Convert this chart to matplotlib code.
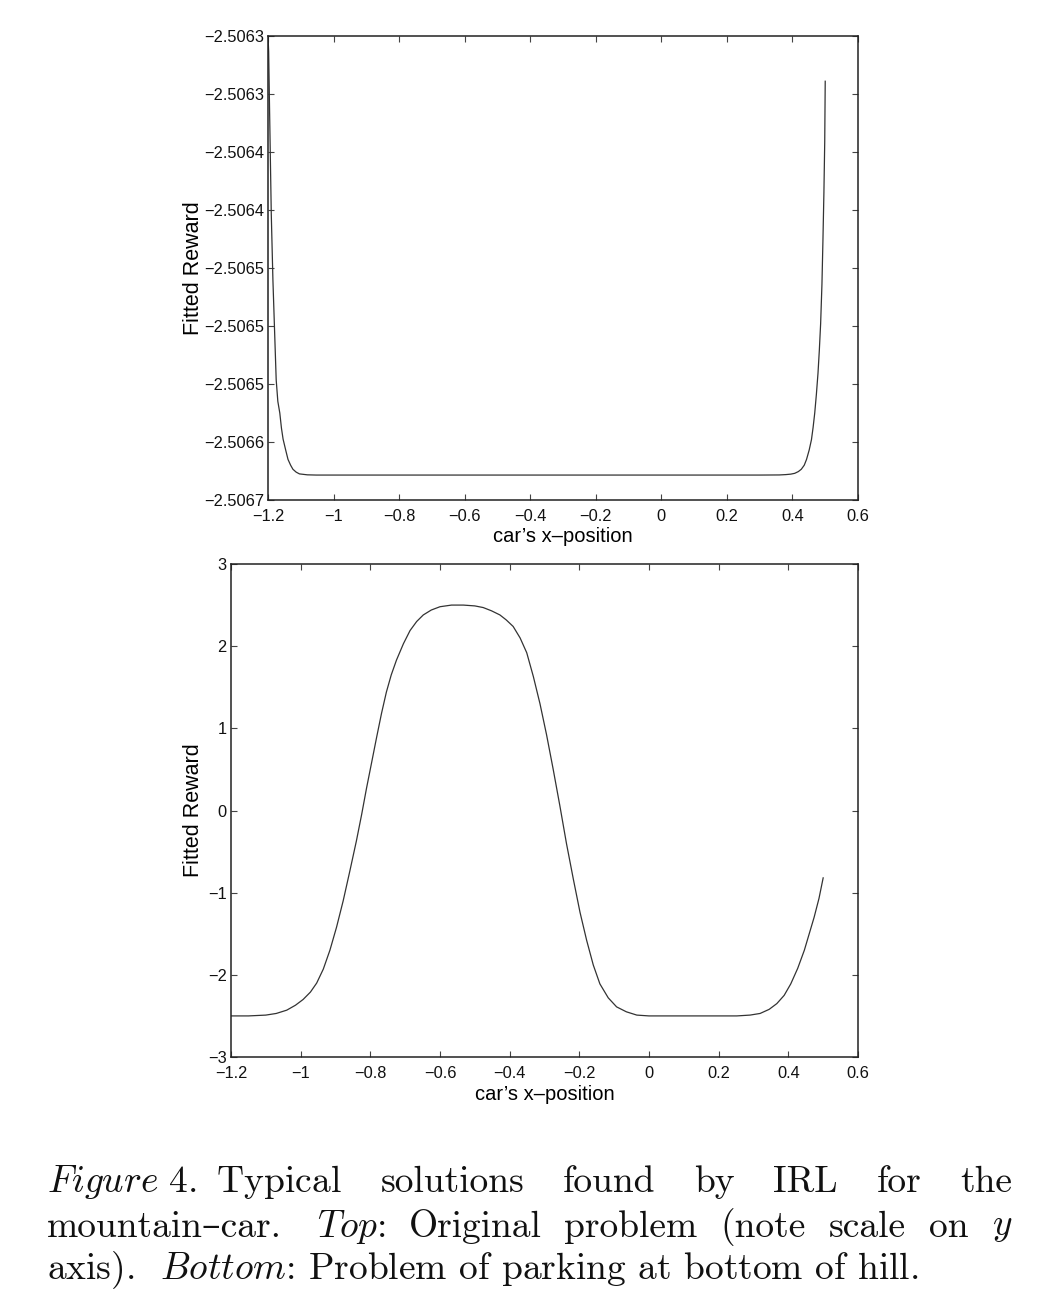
import matplotlib
matplotlib.use("Agg")
import matplotlib.pyplot as plt
from matplotlib.ticker import FixedLocator, FixedFormatter

# ---------------- data ----------------
top_x = [-1.200, -1.198, -1.195, -1.190, -1.185, -1.180, -1.175, -1.170, -1.164,
         -1.159, -1.154, -1.146, -1.139, -1.131, -1.124, -1.114, -1.104, -1.080,
         -1.053, -0.800, -0.400, 0.000, 0.300, 0.360, 0.380, 0.395, 0.407, 0.418,
         0.427, 0.436, 0.443, 0.451, 0.458, 0.463, 0.468, 0.473, 0.478, 0.482,
         0.486, 0.490, 0.493, 0.496, 0.4985, 0.500]
top_y = [-2.5063000, -2.5063135, -2.5063675, -2.5064535, -2.5065105, -2.5065535,
         -2.5065965, -2.5066150, -2.5066250, -2.5066380, -2.5066475, -2.5066570,
         -2.5066650, -2.5066700, -2.5066735, -2.5066760, -2.5066775, -2.5066783,
         -2.5066785, -2.5066785, -2.5066785, -2.5066785, -2.5066785, -2.5066784,
         -2.5066781, -2.5066777, -2.5066770, -2.5066755, -2.5066735, -2.5066700,
         -2.5066650, -2.5066570, -2.5066480, -2.5066375, -2.5066250, -2.5066090,
         -2.5065905, -2.5065710, -2.5065480, -2.5065140, -2.5064765, -2.5064350,
         -2.5063910, -2.5063390]
top_yticks = [-2.50670, -2.50665, -2.50660, -2.50655, -2.50650,
              -2.50645, -2.50640, -2.50635, -2.50630]
top_yticklabels = ["\u22122.5067", "\u22122.5066", "\u22122.5065", "\u22122.5065",
                   "\u22122.5065", "\u22122.5064", "\u22122.5064", "\u22122.5063",
                   "\u22122.5063"]

bot_x = [-1.20, -1.15, -1.10, -1.07, -1.04, -1.015, -0.993, -0.972, -0.954, -0.935,
         -0.916, -0.897, -0.878, -0.859, -0.840, -0.825, -0.811, -0.796, -0.782,
         -0.768, -0.754, -0.740, -0.725, -0.705, -0.686, -0.667, -0.648, -0.625,
         -0.600, -0.567, -0.533, -0.500, -0.476, -0.452, -0.428, -0.410, -0.390,
         -0.370, -0.351, -0.332, -0.313, -0.294, -0.275, -0.256, -0.237, -0.217,
         -0.198, -0.179, -0.160, -0.141, -0.117, -0.093, -0.065, -0.035, 0.00,
         0.05, 0.108, 0.18, 0.252, 0.290, 0.319, 0.345, 0.367, 0.388, 0.407,
         0.427, 0.446, 0.460, 0.474, 0.488, 0.500]
bot_y = [-2.50, -2.50, -2.49, -2.47, -2.43, -2.37, -2.30, -2.21, -2.10, -1.93,
         -1.70, -1.42, -1.10, -0.74, -0.37, -0.05, 0.27, 0.59, 0.89, 1.18,
         1.44, 1.65, 1.83, 2.03, 2.19, 2.30, 2.38, 2.44, 2.48, 2.50,
         2.50, 2.49, 2.47, 2.43, 2.38, 2.32, 2.24, 2.10, 1.92, 1.63,
         1.30, 0.92, 0.50, 0.06, -0.40, -0.84, -1.24, -1.58, -1.88, -2.11,
         -2.28, -2.39, -2.45, -2.49, -2.50, -2.50, -2.50, -2.50, -2.50, -2.49,
         -2.47, -2.42, -2.35, -2.25, -2.11, -1.92, -1.70, -1.50, -1.30, -1.07,
         -0.82]

xticks = [-1.2, -1.0, -0.8, -0.6, -0.4, -0.2, 0.0, 0.2, 0.4, 0.6]
xticklabels = ["\u22121.2", "\u22121", "\u22120.8", "\u22120.6", "\u22120.4",
               "\u22120.2", "0", "0.2", "0.4", "0.6"]
bot_yticks = [-3, -2, -1, 0, 1, 2, 3]
bot_yticklabels = ["\u22123", "\u22122", "\u22121", "0", "1", "2", "3"]

xlabel = "car\u2019s x\u2013position"
ylabel = "Fitted Reward"

# ---------------- figure ----------------
plt.rcParams['font.family'] = ['Liberation Sans', 'DejaVu Sans']
plt.rcParams['mathtext.fontset'] = 'cm'

W, H = 1052, 1312
fig = plt.figure(figsize=(W / 100, H / 100), dpi=100)
fig.patch.set_facecolor('white')


def style_axes(ax):
    for s in ax.spines.values():
        s.set_linewidth(1.1)
        s.set_color('#222222')
    ax.tick_params(direction='in', length=4, width=0.8, colors='#444444',
                   top=True, right=True, labelsize=11.8, labelcolor='#111111')
    ax.tick_params(axis='x', pad=6.5)
    ax.tick_params(axis='y', pad=3)


ax1 = fig.add_axes([268 / W, 1 - 500 / H, 590 / W, 464 / H])
ax1.plot(top_x, top_y, color='#333333', lw=0.9)
ax1.set_xlim(-1.2, 0.6)
ax1.set_ylim(-2.50670, -2.50630)
ax1.xaxis.set_major_locator(FixedLocator(xticks))
ax1.xaxis.set_major_formatter(FixedFormatter(xticklabels))
ax1.yaxis.set_major_locator(FixedLocator(top_yticks))
ax1.yaxis.set_major_formatter(FixedFormatter(top_yticklabels))
style_axes(ax1)
ax1.set_xlabel(xlabel, fontsize=14.5)
ax1.set_ylabel(ylabel, fontsize=15.5)
ax1.xaxis.set_label_coords(0.5, -0.058)
ax1.yaxis.set_label_coords(-0.108, 0.5)

ax2 = fig.add_axes([231 / W, 1 - 1057 / H, 627 / W, 493 / H])
ax2.plot(bot_x, bot_y, color='#333333', lw=0.9)
ax2.set_xlim(-1.2, 0.6)
ax2.set_ylim(-3, 3)
ax2.xaxis.set_major_locator(FixedLocator(xticks))
ax2.xaxis.set_major_formatter(FixedFormatter(xticklabels))
ax2.yaxis.set_major_locator(FixedLocator(bot_yticks))
ax2.yaxis.set_major_formatter(FixedFormatter(bot_yticklabels))
style_axes(ax2)
ax2.set_xlabel(xlabel, fontsize=14.5)
ax2.set_ylabel(ylabel, fontsize=15.5)
ax2.xaxis.set_label_coords(0.5, -0.056)
ax2.yaxis.set_label_coords(-0.043, 0.5)

# ---------------- caption ----------------
cap_fam = ['cmr10', 'DejaVu Serif']
cap_size = 27
lines = [
    (["$\\mathit{Figure\\ 4.}$ Typical", "solutions", "found", "by", "IRL", "for", "the"], True, 1182),
    (["mountain\u2013car.", " $\\mathit{Top}$:", "Original", "problem", "(note", "scale", "on", "$y$"], True, 1227),
    (["axis).  $\\mathit{Bottom}$: Problem of parking at bottom of hill."], False, 1270),
]
x0, x1 = 47, 1012
renderer = fig.canvas.get_renderer()
for words, justify, ypix in lines:
    texts = []
    for w in words:
        t = fig.text(0, 1 - ypix / H, w, fontsize=cap_size, family=cap_fam,
                     ha='left', va='center', color='#111111')
        texts.append(t)
    widths = [t.get_window_extent(renderer).width for t in texts]
    if justify and len(texts) > 1:
        gap = (x1 - x0 - sum(widths)) / (len(texts) - 1)
    else:
        gap = 12
    xc = x0
    for t, wd in zip(texts, widths):
        t.set_x(xc / W)
        xc += wd + gap

fig.savefig('out.png', dpi=100, facecolor='white')
